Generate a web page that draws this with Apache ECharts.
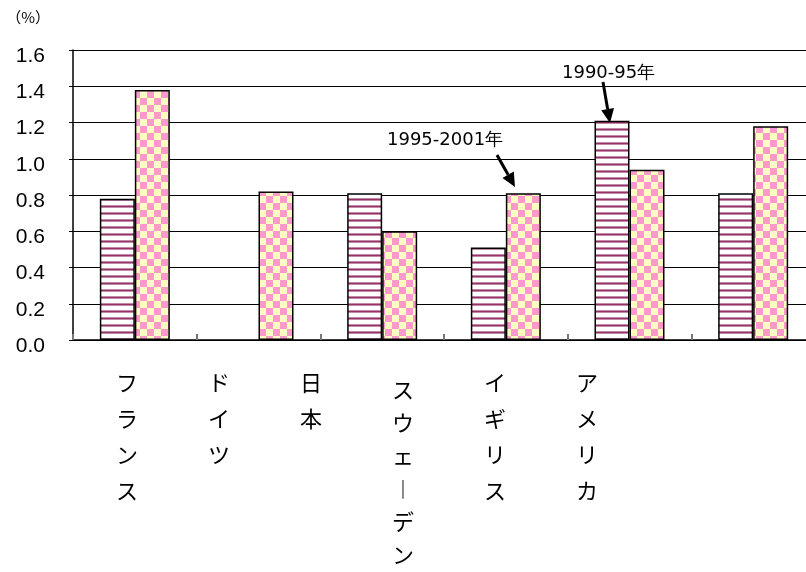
<!DOCTYPE html>
<html><head><meta charset="utf-8">
<script src="https://cdn.jsdelivr.net/npm/echarts@6/dist/echarts.min.js"></script>
<style>html,body{margin:0;padding:0;background:#fff}#c{width:806px;height:572px}</style>
</head><body><div id="c"></div>
<script>
const categories = ['フランス','ドイツ','日本','スウェーデン','イギリス','アメリカ'];
const seriesNames = ['1990-95年','1995-2001年'];
const values9095 = [0.78, null, 0.81, 0.51, 1.21, 0.81];
const values9501 = [1.38, 0.82, 0.60, 0.81, 0.94, 1.18];
const yTicks = {min: 0, max: 1.6, interval: 0.2};
const unitLabel = '（%）';

function stripePattern(){
  const c = document.createElement('canvas'); c.width = 8; c.height = 7;
  const g = c.getContext('2d');
  g.fillStyle = '#ffffff'; g.fillRect(0,0,8,7);
  g.fillStyle = '#c08aa8'; g.fillRect(0,2,8,1);
  g.fillStyle = '#993366'; g.fillRect(0,3,8,1);
  g.fillStyle = '#c08aa8'; g.fillRect(0,4,8,1);
  return c;
}
function checkerPattern(){
  const s = 7;
  const c = document.createElement('canvas'); c.width = 2*s; c.height = 2*s;
  const g = c.getContext('2d');
  g.fillStyle = '#ffffc4'; g.fillRect(0,0,2*s,2*s);
  g.fillStyle = '#ff99cc'; g.fillRect(0,0,s,s); g.fillRect(s,s,s,s);
  return c;
}
function arrow(x1,y1,x2,y2){
  const ang = Math.atan2(y2-y1,x2-x1), L = 14, W = 6.5;
  const bx = x2 - L*Math.cos(ang), by = y2 - L*Math.sin(ang);
  const px = -Math.sin(ang)*W, py = Math.cos(ang)*W;
  return [
    {type:'line', shape:{x1:x1,y1:y1,x2:bx,y2:by}, style:{stroke:'#000', lineWidth:3}},
    {type:'polygon', shape:{points:[[x2,y2],[bx+px,by+py],[bx-px,by-py]]}, style:{fill:'#000'}}
  ];
}
const annFont = '18px "DejaVu Sans", sans-serif';

function verticalLabel(v){
  const chars = v.split('').map(ch => ch === 'ー' ? '︱' : ch);
  if (chars.length > 4) return '{g| }\n' + chars.map(ch => '{s|' + ch + '}').join('\n');
  return chars.join('\n');
}

const chart = echarts.init(document.getElementById('c'));
chart.setOption({
  animation: false,
  grid: [
    {left: 73, top: 50, width: 742, height: 290, containLabel:false, outerBoundsMode:'none'},
    {left: 81, top: 50, width: 552, height: 290, containLabel:false, outerBoundsMode:'none'}
  ],
  xAxis: [
    {type:'category', gridIndex:0, data: categories,
     axisLine:{lineStyle:{color:'#000', width:1.5}},
     axisTick:{show:true, inside:true, length:6, lineStyle:{color:'#777', width:2}},
     axisLabel:{show:false}},
    {type:'category', gridIndex:1, data: categories,
     axisLine:{show:false}, axisTick:{show:false},
     axisLabel:{show:true, interval:0, margin:25, color:'#000', fontSize:22, lineHeight:36,
       fontFamily:'"Noto Sans CJK JP"',
       rich:{
         s:{fontSize:22, lineHeight:33, color:'#000', fontFamily:'"Noto Sans CJK JP"'},
         g:{fontSize:4, lineHeight:8}
       },
       formatter: verticalLabel}}
  ],
  yAxis: [
    {type:'value', gridIndex:0, min:yTicks.min, max:yTicks.max, interval:yTicks.interval,
     name: unitLabel, nameLocation:'end', nameGap:25,
     nameTextStyle:{color:'#000', fontSize:15, fontFamily:'"Noto Sans CJK JP"', align:'right', padding:[0,23,0,0]},
     axisLine:{show:true, lineStyle:{color:'#000', width:1.5}},
     axisTick:{show:true, length:4, lineStyle:{color:'#000'}},
     axisLabel:{color:'#000', fontSize:21, fontFamily:'"Liberation Sans", Arial, sans-serif', margin:28,
       verticalAlign:'top', lineHeight:12, formatter: v => v.toFixed(1)},
     splitLine:{show:true, lineStyle:{color:'#000', width:1}}},
    {type:'value', gridIndex:1, min:0, max:1, show:false}
  ],
  series: [
    {name: seriesNames[0], type:'bar', xAxisIndex:0, yAxisIndex:0, data: values9095,
     barGap:'0%', barCategoryGap:'43.4%',
     itemStyle:{color:{image: stripePattern(), repeat:'repeat'}, borderColor:'#000', borderWidth:1.5}},
    {name: seriesNames[1], type:'bar', xAxisIndex:0, yAxisIndex:0, data: values9501,
     barGap:'0%', barCategoryGap:'43.4%',
     itemStyle:{color:{image: checkerPattern(), repeat:'repeat'}, borderColor:'#000', borderWidth:1.5}}
  ],
  graphic: [
    {type:'text', left:387, top:131, style:{text: seriesNames[1], fill:'#000', font: annFont}},
    {type:'text', left:562, top:64, style:{text: seriesNames[0], fill:'#000', font: annFont}},
    ...arrow(497,155,515,187),
    ...arrow(603,82,610,123)
  ]
});
</script></body></html>
